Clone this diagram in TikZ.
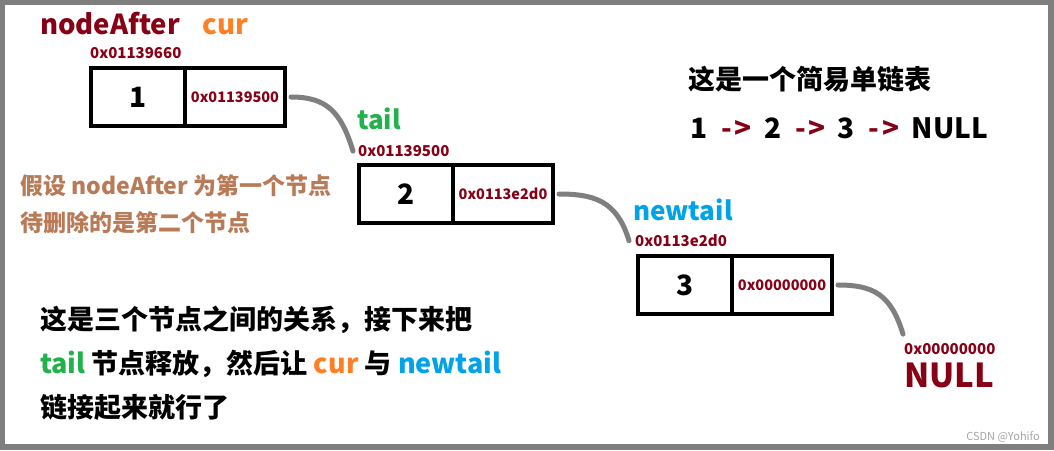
\documentclass[tikz,border=0pt]{standalone}
\usepackage{fontspec}
\setmainfont{Noto Sans CJK SC}
\usetikzlibrary{positioning}

\definecolor{dred}{RGB}{136,0,21}
\definecolor{cgreen}{RGB}{34,177,76}
\definecolor{cblue}{RGB}{0,162,232}
\definecolor{corange}{RGB}{255,127,39}
\definecolor{cbrown}{RGB}{185,122,87}
\definecolor{cgray}{RGB}{127,127,127}

\newcommand{\lkarrow}{\hspace{14pt}\textcolor{dred}{-\hspace{3pt}>}\hspace{12pt}}

\begin{document}
\begin{tikzpicture}[
  x=1pt, y=-1pt,
  cell/.style={rectangle, draw=black, line width=4pt, inner sep=0pt, outer sep=0pt, minimum height=58pt, font=\fontsize{28}{28}\selectfont\bfseries},
  valcell/.style={cell, minimum width=94pt},
  ptrcell/.style={cell, minimum width=100pt, text=dred, font=\fontsize{14.5}{14.5}\selectfont\bfseries},
  addr/.style={inner sep=0pt, text=dred, font=\fontsize{15}{15}\selectfont\bfseries},
  var/.style={inner sep=0pt, font=\fontsize{26}{26}\selectfont\bfseries},
  note/.style={inner sep=0pt, align=left, font=\fontsize{27}{44}\selectfont\bfseries},
  link/.style={draw=cgray, line width=5pt, line cap=round},
]
% frame
\fill[cgray] (0,0) rectangle (1054,450);
\fill[white] (5,5) rectangle (1048,444);

% first node
\node[valcell] (v1) at (138,97) {1};
\node[ptrcell, right=0pt of v1] (p1) {0x01139500};
\node[addr, above right=9pt and -1pt of v1.north west] (a1) {0x01139660};
\node[var, text=dred, font=\fontsize{27.5}{27.5}\selectfont\bfseries, above right=12pt and -50pt of a1.north west] (nafter) {nodeAfter\hspace{23pt}\textcolor{corange}{cur}};

% second node
\node[valcell] (v2) at (406,194) {2};
\node[ptrcell, right=0pt of v2] (p2) {0x0113e2d0};
\node[addr, above right=8pt and -1pt of v2.north west] (a2) {0x01139500};
\node[var, text=cgreen, above right=15pt and -1pt of a2.north west] (tail) {tail};

% third node
\node[valcell] (v3) at (685,285) {3};
\node[ptrcell, right=0pt of v3] (p3) {0x00000000};
\node[addr, above right=9pt and -3pt of v3.north west] (a3) {0x0113e2d0};
\node[var, text=cblue, above right=13pt and -2pt of a3.north west] (newtail) {newtail};

% NULL
\node[addr, anchor=west] (a4) at (904,349) {0x00000000};
\node[inner sep=0pt, text=dred, font=\fontsize{33}{33}\selectfont\bfseries, below right=8pt and 0pt of a4.south west] (null) {NULL};

% links
\coordinate[left=5pt of a2] (e1);
\coordinate[left=6pt of a3] (e2);
\coordinate[above left=9pt and 1pt of a4.north west] (e3);
\draw[link] ([xshift=6pt]p1.east) .. controls +(35,0) and +(-12,-40) .. (e1);
\draw[link] ([xshift=6pt]p2.east) .. controls +(35,0) and +(-12,-40) .. (e2);
\draw[link] ([xshift=6pt]p3.east) .. controls +(35,0) and +(-12,-40) .. (e3);

% texts
\node[inner sep=0pt, font=\fontsize{27}{27}\selectfont\bfseries, anchor=west] (title) at (688,79) {这是一个简易单链表};
\node[inner sep=0pt, font=\fontsize{28}{28}\selectfont\bfseries, anchor=west] (list) at (690,128) {1\lkarrow 2\lkarrow 3\lkarrow NULL};
\node[note, text=cbrown, font=\fontsize{23}{37}\selectfont\bfseries, anchor=west] (assume) at (20,204) {假设 nodeAfter 为第一个节点\\待删除的是第二个节点};
\node[note, anchor=west] (plan) at (40,363) {这是三个节点之间的关系，接下来把\\\textcolor{cgreen}{tail} 节点释放，然后让 \textcolor{corange}{cur} 与 \textcolor{cblue}{newtail}\\链接起来就行了};
\node[inner sep=0pt, text=gray!70, font=\fontsize{11}{11}\selectfont, anchor=east] (mark) at (1040,437) {CSDN @Yohifo};
\end{tikzpicture}
\end{document}
